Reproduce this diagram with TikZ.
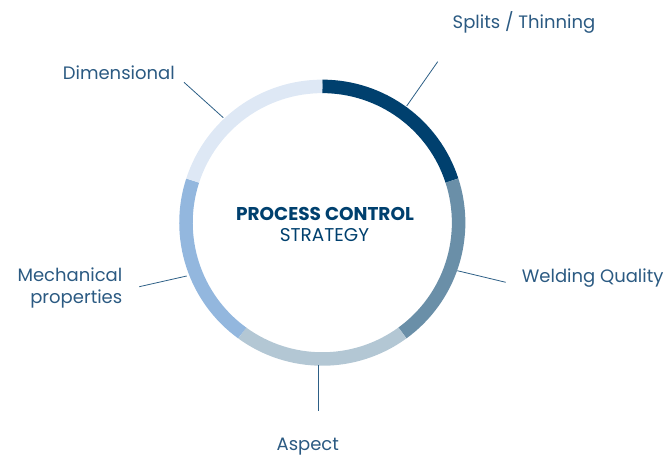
\documentclass[tikz,border=0pt]{standalone}
\usepackage{fontspec}
\setmainfont{Poppins}
\definecolor{navy}{HTML}{00406E}
\definecolor{steel}{HTML}{6A8FA8}
\definecolor{mist}{HTML}{B3C7D4}
\definecolor{sky}{HTML}{93B7DE}
\definecolor{ice}{HTML}{DEE8F5}
\definecolor{labelcol}{HTML}{2B5A82}
\definecolor{linecol}{HTML}{2D5F86}
\begin{document}
\begin{tikzpicture}[x=1pt,y=1pt,
    ring/.style={line width=13.5pt},
    leader/.style={draw=linecol,line width=0.8pt},
    lbl/.style={text=labelcol,font=\fontsize{18}{22}\selectfont,inner sep=0pt}]
\useasboundingbox (0,0) rectangle (668,457);
\coordinate (C) at (322.3,234.3);
% ring, five equal parts
\foreach \a/\col in {90/navy,18/steel,-54/mist,-126/sky,-198/ice}
    \draw[ring,draw=\col] (C) ++(\a:136.3) arc[start angle=\a,end angle=\a-72,radius=136.3];

\node[text=navy,font=\fontsize{18.5}{20}\selectfont\bfseries,anchor=base,inner sep=0pt] (title) at (325,236) {PROCESS CONTROL};
\node[text=navy,font=\fontsize{18.5}{20}\selectfont,anchor=base,inner sep=0pt] (subtitle) at (324.5,215.3) {STRATEGY};

\node[lbl,anchor=base] (splits) at (524,428) {Splits / Thinning};
\node[lbl,anchor=base] (welding) at (592.7,174.3) {Welding Quality};
\node[lbl,anchor=north east,align=right] (mech) at (122.5,189) {Mechanical\\properties};
\node[lbl,anchor=base] (dim) at (118.8,377.7) {Dimensional};
\node[lbl,anchor=base] (aspect) at (307.8,7) {Aspect};

% leader lines
\coordinate (splitsA) at (406.7,351);
\coordinate (splitsB) at (437.7,395.3);
\coordinate (weldA) at (457.3,186.3);
\coordinate (weldB) at (505.7,174.7);
\coordinate (mechA) at (186.7,181);
\coordinate (mechB) at (139.3,170.3);
\coordinate (dimA) at (223.3,339.3);
\coordinate (dimB) at (184,374.7);
\coordinate (aspectA) at (318.3,92);
\coordinate (aspectB) at (318.3,46.3);
\draw[leader] (splitsA) -- (splitsB);
\draw[leader] (weldA) -- (weldB);
\draw[leader] (mechA) -- (mechB);
\draw[leader] (dimA) -- (dimB);
\draw[leader] (aspectA) -- (aspectB);
\end{tikzpicture}
\end{document}
